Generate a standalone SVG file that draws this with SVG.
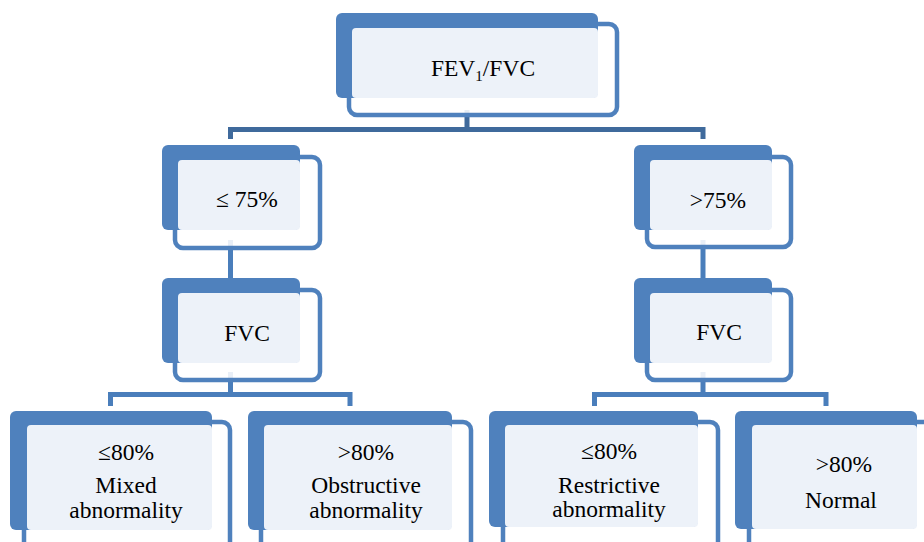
<svg xmlns="http://www.w3.org/2000/svg" width="924" height="542" viewBox="0 0 924 542">
<style>
.front{fill:#ffffff;fill-opacity:0.88;stroke:#4F81BD;stroke-width:4.5}
.back{fill:#4F81BD}
.light{fill:#EDF2F9}
.t{font-family:"Liberation Serif","Times New Roman",serif;font-size:23.5px;fill:#000;text-anchor:middle}
.c1{fill:none;stroke:#3F6A9C;stroke-width:5}
.c2{fill:none;stroke:#4A7EBB;stroke-width:5}
</style>
<rect width="924" height="542" fill="#ffffff"/>
<g id="connectors">
<path class="c1" d="M467 110V129.5M230.5 139V129.5H703V139"/>
<path class="c2" d="M230.5 240V278"/>
<path class="c2" d="M703 240V278"/>
<path class="c2" d="M230.5 372V394.5M110.5 406V394.5H350V406"/>
<path class="c2" d="M703 372V394.5M594.5 406V394.5H826V406"/>
</g>
<g id="n-root">
<rect class="front" x="349" y="24" width="268" height="91" rx="8"/>
<rect class="back" x="336" y="13" width="262" height="85" rx="6"/>
<rect class="light" x="352" y="28" width="246" height="70" rx="4"/>
<text class="t" x="483" y="76">FEV<tspan font-size="15" dy="5">1</tspan><tspan dy="-5">/FVC</tspan></text>
</g>
<g id="n-le75">
<rect class="front" x="175" y="157" width="145" height="91" rx="8"/>
<rect class="back" x="162" y="145" width="138" height="85" rx="6"/>
<rect class="light" x="178" y="160" width="122" height="70" rx="4"/>
<text class="t" x="247" y="207">≤ 75%</text>
</g>
<g id="n-gt75">
<rect class="front" x="647" y="157" width="144" height="90" rx="8"/>
<rect class="back" x="634" y="145" width="138" height="85" rx="6"/>
<rect class="light" x="650" y="160" width="122" height="70" rx="4"/>
<text class="t" x="718" y="208">&gt;75%</text>
</g>
<g id="n-fvc-left">
<rect class="front" x="175" y="290" width="145" height="90" rx="8"/>
<rect class="back" x="162" y="278" width="138" height="85" rx="6"/>
<rect class="light" x="178" y="293" width="122" height="70" rx="4"/>
<text class="t" x="247" y="341">FVC</text>
</g>
<g id="n-fvc-right">
<rect class="front" x="647" y="290" width="144" height="90" rx="8"/>
<rect class="back" x="634" y="278" width="138" height="85" rx="6"/>
<rect class="light" x="650" y="293" width="122" height="70" rx="4"/>
<text class="t" x="719" y="340">FVC</text>
</g>
<g id="n-mixed">
<rect class="front" x="24" y="422" width="206" height="140" rx="8"/>
<rect class="back" x="10" y="411" width="202" height="119" rx="6"/>
<rect class="light" x="27" y="425" width="185" height="105" rx="4"/>
<text class="t" x="126" y="460">≤80%</text>
<text class="t" x="126" y="493">Mixed</text>
<text class="t" x="126" y="518">abnormality</text>
</g>
<g id="n-obstructive">
<rect class="front" x="261" y="422" width="210" height="140" rx="8"/>
<rect class="back" x="248" y="411" width="204" height="119" rx="6"/>
<rect class="light" x="264" y="425" width="188" height="105" rx="4"/>
<text class="t" x="366" y="460">&gt;80%</text>
<text class="t" x="366" y="493">Obstructive</text>
<text class="t" x="366" y="518">abnormality</text>
</g>
<g id="n-restrictive">
<rect class="front" x="503" y="422" width="215" height="140" rx="8"/>
<rect class="back" x="489" y="411" width="209" height="116" rx="6"/>
<rect class="light" x="505" y="425" width="193" height="102" rx="4"/>
<text class="t" x="609" y="459">≤80%</text>
<text class="t" x="609" y="493">Restrictive</text>
<text class="t" x="609" y="517">abnormality</text>
</g>
<g id="n-normal">
<rect class="front" x="749" y="422" width="200" height="140" rx="8"/>
<rect class="back" x="735" y="411" width="182" height="118" rx="6"/>
<rect class="light" x="752" y="425" width="165" height="104" rx="4"/>
<text class="t" x="844" y="472">&gt;80%</text>
<text class="t" x="841" y="508">Normal</text>
</g>
</svg>
